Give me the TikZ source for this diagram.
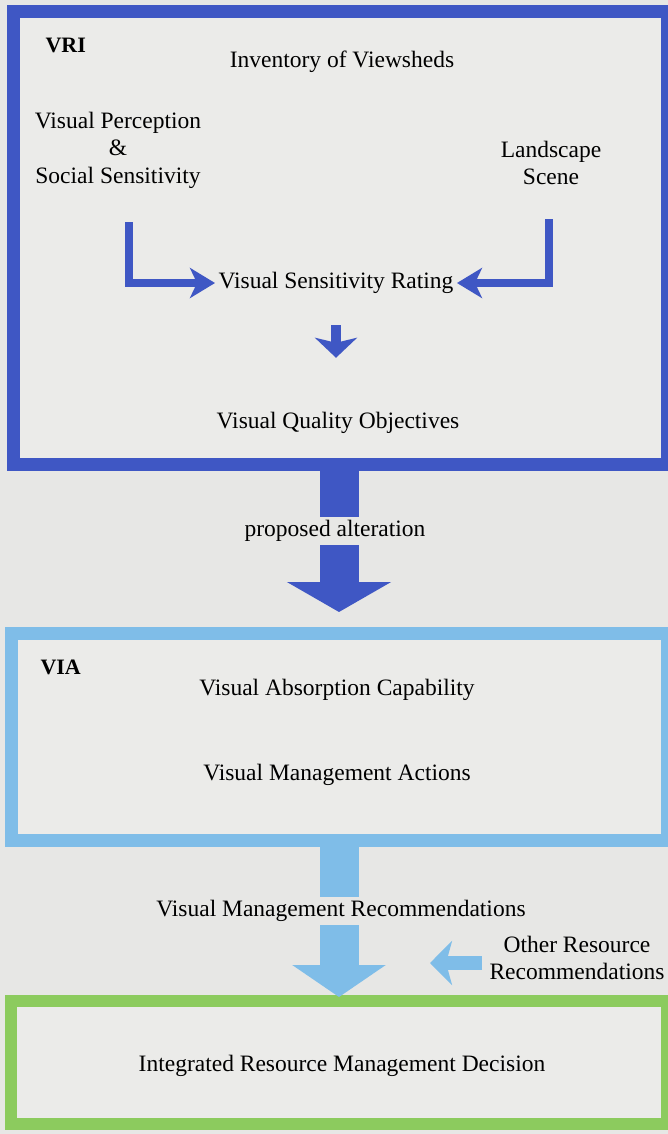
\documentclass[tikz,border=0pt]{standalone}
\usepackage{fontspec}
\setmainfont{Liberation Serif}
\usetikzlibrary{arrows.meta, positioning}

\definecolor{vriblue}{RGB}{63,87,196}
\definecolor{vialight}{RGB}{127,189,232}
\definecolor{irmgreen}{RGB}{140,203,94}
\definecolor{paper}{RGB}{231,231,229}
\definecolor{boxfill}{RGB}{235,235,233}

\begin{document}
\begin{tikzpicture}[x=1pt, y=-1pt, font=\fontsize{23.5}{27.5}\selectfont,
    panel/.style={fill=boxfill, inner sep=0pt},
    tag/.style={anchor=west, font=\fontsize{22}{26}\selectfont\bfseries},
    thinarrow/.style={draw=#1, line width=8pt, -{Stealth[length=25pt, width=30pt, inset=7pt]}},
    bigarrow/.style={draw=#1, line width=39pt}]
    \fill[paper] (0,0) rectangle (668,1134);
    \useasboundingbox (0,0) rectangle (668,1134);

    % Boxes
    \node (vri) at (340.25,238) [panel, draw=vriblue, line width=13pt, minimum width=653.5pt, minimum height=452pt] {};
    \node (via) at (339.25,736.5) [panel, draw=vialight, line width=13pt, minimum width=655.5pt, minimum height=207pt] {};
    \node (irm) at (339,1062.5) [panel, draw=irmgreen, line width=12pt, minimum width=656pt, minimum height=123pt] {};

    % Nodes
    \node (vritag) at (42,45) [tag] {VRI};
    \node (inv) at (342,62) {Inventory of Viewsheds};
    \node (perc) at (118,150) [align=center] {Visual Perception\\\&\\Social Sensitivity};
    \node (land) at (551,163) [align=center] {Landscape\\Scene};
    \node (vsr) at (336,283) {Visual Sensitivity Rating};
    \node (vqo) at (338,423) {Visual Quality Objectives};

    \node (viatag) at (37,667) [tag] {VIA};
    \node (vac) at (337,690) {Visual Absorption Capability};
    \node (vma) at (337,775) {Visual Management Actions};

    \node (orr) at (577,958) [align=center] {Other Resource\\Recommendations};
    \node (irmd) at (342,1066) {Integrated Resource Management Decision};

    \coordinate (vsrl) at (129,222);
    \coordinate (vsrr) at (549,219);
    \coordinate (vritip) at (339,612);
    \coordinate (viatip) at (339,997);
    \coordinate (orrtip) at (430,963);

    % edges
    \draw[thinarrow=vriblue] (vsrl) |- (vsr.west);
    \draw[thinarrow=vriblue] (vsrr) |- (vsr.east);
    \draw[vriblue, line width=10pt, -{Stealth[length=20pt, width=42pt, inset=5pt]}, shorten <=28pt, shorten >=51pt]
        (vsr.south) -- (vsr.south |- vqo.north);
    \draw[bigarrow=vriblue, -{Triangle[length=30pt, width=103pt]}] (vri.south -| vritip) -- (vritip);
    \draw[bigarrow=vialight, -{Triangle[length=32pt, width=92pt]}] (via.south -| viatip) -- (viatip);
    \draw[vialight, line width=14pt, -{Stealth[length=22pt, width=44pt, inset=6pt]}, shorten <=4pt]
        (orrtip -| orr.west) -- (orrtip);

    \node (alt) at (335,531) [fill=paper, minimum height=26pt] {proposed alteration};
    \node (vmr) at (341,911) [fill=paper, minimum height=27pt] {Visual Management Recommendations};

\end{tikzpicture}
\end{document}
